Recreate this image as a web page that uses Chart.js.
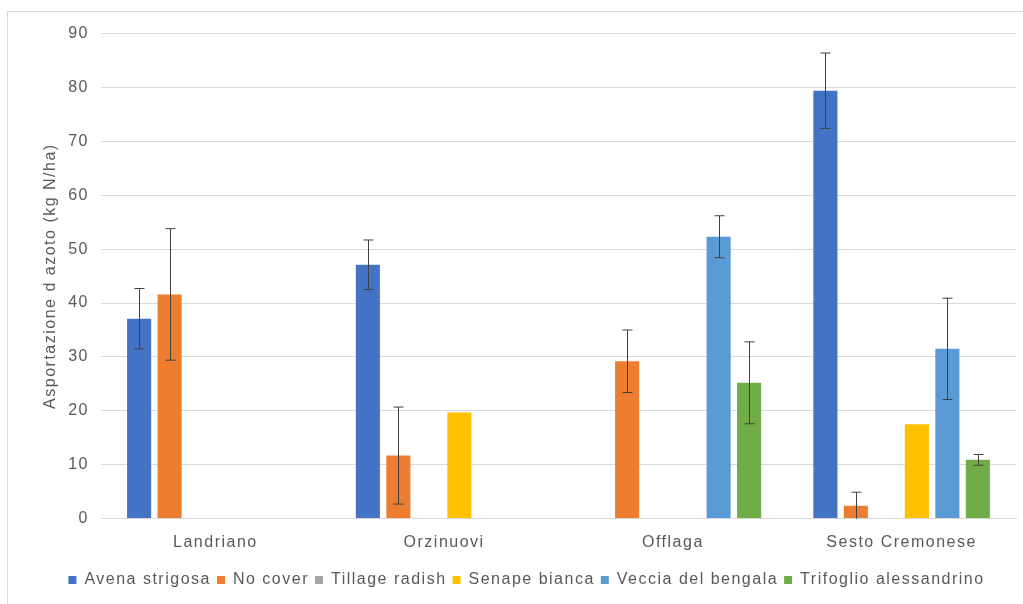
<!DOCTYPE html>
<html>
<head>
<meta charset="utf-8">
<script src="https://cdn.jsdelivr.net/npm/chart.js@4"></script>
<style>
    html, body { margin: 0; padding: 0; background: #fff; overflow: hidden; }
    #wrap {
        position: absolute;
        left: 7px;
        top: 11px;
        width: 1016px;
        height: 593px;
        border-left: 1px solid #d9d9d9;
        border-top: 1px solid #d9d9d9;
    }
</style>
</head>
<body>
<div id="wrap"><canvas id="chart"></canvas></div>
<script>
// Categories and series
const sites = ['Landriano', 'Orzinuovi', 'Offlaga', 'Sesto Cremonese'];
const seriesNames = ['Avena strigosa', 'No cover', 'Tillage radish', 'Senape bianca', 'Veccia del bengala', 'Trifoglio alessandrino'];
const seriesColors = ['#4472c4', '#ed7d31', '#a5a5a5', '#ffc000', '#5b9bd5', '#70ad47'];

// Values (kg N/ha), null = no bar
const avenaValues = [37.1, 47.1, null, 79.4];
const noCoverValues = [41.6, 11.7, 29.2, 2.4];
const radishValues = [null, null, null, null];
const senapeValues = [null, 19.7, null, 17.5];
const vecciaValues = [null, null, 52.3, 31.5];
const trifoglioValues = [null, null, 25.2, 10.9];

// Error bar half widths
const avenaErr = [5.6, 4.6, null, 7.0];
const noCoverErr = [12.2, 9.0, 5.8, 2.5];
const radishErr = [null, null, null, null];
const senapeErr = [null, null, null, null];
const vecciaErr = [null, null, 3.9, 9.4];
const trifoglioErr = [null, null, 7.6, 1.0];

const yTicks = [0, 10, 20, 30, 40, 50, 60, 70, 80, 90];

const allValues = [avenaValues, noCoverValues, radishValues, senapeValues, vecciaValues, trifoglioValues];
const allErrors = [avenaErr, noCoverErr, radishErr, senapeErr, vecciaErr, trifoglioErr];

// Wider text, like the stretched original
const spacingPlugin = {
    id: 'spacing',
    beforeUpdate(chart) { chart.ctx.letterSpacing = '1.5px'; },
    beforeDraw(chart) { chart.ctx.letterSpacing = '1.5px'; }
};

// Draw error bars using the chart's own scales
const errorBarPlugin = {
    id: 'errorBars',
    afterDatasetsDraw(chart) {
        const ctx = chart.ctx;
        const yScale = chart.scales.y;
        ctx.save();
        ctx.strokeStyle = '#404040';
        ctx.lineWidth = 1;
        allErrors.forEach((errs, i) => {
            const meta = chart.getDatasetMeta(i);
            errs.forEach((e, j) => {
                const v = allValues[i][j];
                if (e == null || v == null) return;
                const x = Math.round(meta.data[j].x) + 0.5;
                const yTop = yScale.getPixelForValue(v + e);
                const yBot = yScale.getPixelForValue(Math.max(0, v - e));
                ctx.beginPath();
                ctx.moveTo(x, yTop);
                ctx.lineTo(x, yBot);
                ctx.moveTo(x - 5, yTop);
                ctx.lineTo(x + 5, yTop);
                if (v - e > 0) {
                    ctx.moveTo(x - 5, yBot);
                    ctx.lineTo(x + 5, yBot);
                }
                ctx.stroke();
            });
        });
        ctx.restore();
    }
};

Chart.defaults.font.family = '"Liberation Sans", Arial, sans-serif';
Chart.defaults.color = '#595959';

new Chart(document.getElementById('chart'), {
    type: 'bar',
    data: {
        labels: sites,
        datasets: seriesNames.map((name, i) => ({
            label: name,
            data: allValues[i],
            backgroundColor: seriesColors[i],
            borderWidth: 0,
            categoryPercentage: 0.8,
            barPercentage: 0.79
        }))
    },
    options: {
        responsive: true,
        maintainAspectRatio: false,
        animation: false,
        layout: { padding: { top: 13, right: 8, bottom: 7, left: 29 } },
        plugins: {
            legend: {
                position: 'bottom',
                // empty title only adds a little room above the items
                title: { display: true, text: ' ', font: { size: 6 }, padding: { top: 1, bottom: 0 } },
                labels: {
                    boxWidth: 8,
                    boxHeight: 8,
                    padding: 6,
                    color: '#595959',
                    font: { size: 16 }
                }
            },
            tooltip: { enabled: false }
        },
        scales: {
            x: {
                grid: { display: false },
                border: { color: '#d9d9d9' },
                ticks: { font: { size: 16 }, padding: 6 }
            },
            y: {
                min: 0,
                max: 90,
                afterBuildTicks: s => { s.ticks = yTicks.map(v => ({ value: v })); },
                afterFit: s => { s.width = 64; },
                grid: { color: '#d9d9d9', drawTicks: false },
                border: { display: false },
                ticks: { font: { size: 16 }, padding: 12 },
                title: {
                    display: true,
                    text: 'Asportazione d azoto (kg N/ha)',
                    font: { size: 16 },
                    color: '#595959'
                }
            }
        }
    },
    plugins: [spacingPlugin, errorBarPlugin]
});
</script>
</body>
</html>
